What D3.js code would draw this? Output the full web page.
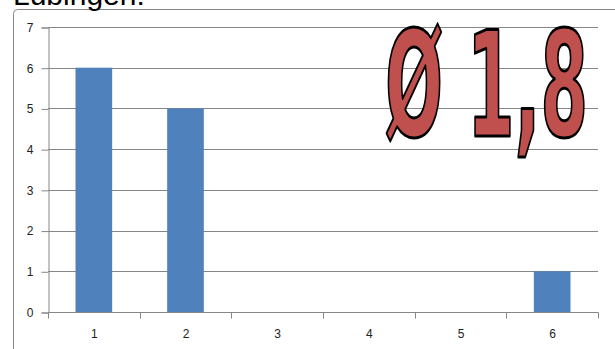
<!DOCTYPE html>
<html><head><meta charset="utf-8">
<script src="https://cdn.jsdelivr.net/npm/d3@7"></script>
<style>body{margin:0;background:#fff}svg{display:block}</style>
</head><body>
<script>
const categories = ["1","2","3","4","5","6"];
const values = [6,5,0,0,0,1];
const yTicks = [0,1,2,3,4,5,6,7];
const titleText = "Lübingen:";
const averageText = "Ø 1,8";

const W = 615, H = 349;
const svg = d3.select("body").append("svg").attr("width", W).attr("height", H);

// outer chart frame
svg.append("rect").attr("x", 13.5).attr("y", 9.5).attr("width", 640).attr("height", 400)
  .attr("rx", 4).attr("fill", "#fff").attr("stroke", "#868686").attr("stroke-width", 1);

svg.append("text").attr("x", 13).attr("y", 5).attr("font-family", "Liberation Sans, Arial, sans-serif")
  .attr("font-size", 30).attr("fill", "#000").text(titleText);

const x = d3.scaleBand().domain(categories).range([48, 598]).paddingInner(0.6).paddingOuter(0.3);
const xb = d3.scaleBand().domain(categories).range([48, 598]);
const y = d3.scaleLinear().domain([0, 7]).range([312, 27]);

// gridlines
svg.append("g").selectAll("line").data(yTicks.filter(d => d > 0)).join("line")
  .attr("x1", 48).attr("x2", 598).attr("y1", d => Math.round(y(d)) + 0.5).attr("y2", d => Math.round(y(d)) + 0.5)
  .attr("stroke", "#868686").attr("stroke-width", 1);

// y axis
const yAxis = svg.append("g").attr("transform", "translate(48.5,0.5)")
  .call(d3.axisLeft(y).tickValues(yTicks).tickSize(7).tickPadding(8).tickFormat(d3.format("d")));
yAxis.selectAll("text").attr("font-family", "Liberation Sans, sans-serif").attr("font-size", 12).attr("fill", "#222");
yAxis.selectAll("line,path").attr("stroke", "#868686");

// bars
svg.append("g").selectAll("rect").data(values).join("rect")
  .attr("x", (d, i) => x(categories[i])).attr("width", x.bandwidth())
  .attr("y", d => y(d)).attr("height", d => y(0) - y(d))
  .attr("fill", "#4F81BD");

// x axis
const xg = svg.append("g").attr("transform", "translate(0.5," + (Math.round(y(0)) + 0.5) + ")");
xg.append("line").attr("x1", 48).attr("x2", 598).attr("stroke", "#868686");
const bounds = categories.map(c => xb(c)).concat([598]);
xg.selectAll("line.tk").data(bounds).join("line").attr("class", "tk")
  .attr("x1", d => Math.round(d)).attr("x2", d => Math.round(d)).attr("y1", 0).attr("y2", 6).attr("stroke", "#868686");
xg.selectAll("text").data(categories).join("text")
  .attr("x", d => xb(d) + xb.bandwidth() / 2).attr("y", 25).attr("text-anchor", "middle")
  .attr("font-family", "Liberation Sans, sans-serif").attr("font-size", 12).attr("fill", "#222").text(d => d);

// big average label
svg.append("text").attr("x", 385).attr("y", 136)
  .attr("font-family", "'Liberation Sans Narrow', 'DejaVu Sans Condensed', 'Liberation Sans', sans-serif")
  .attr("font-weight", 700)
  .attr("font-size", 146).attr("textLength", 203).attr("lengthAdjust", "spacingAndGlyphs")
  .attr("fill", "#C0504D").attr("stroke", "#000").attr("stroke-width", 3).attr("stroke-linejoin", "round")
  .text(averageText);
</script>
</body></html>
